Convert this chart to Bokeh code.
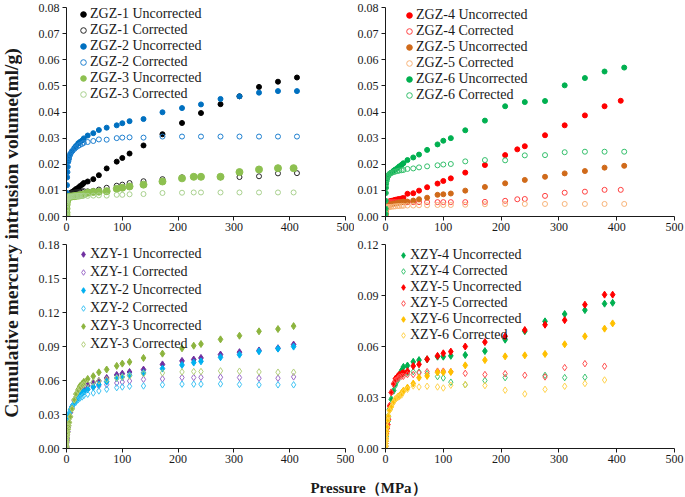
import math
from bokeh.plotting import figure
from bokeh.models import Range1d, Legend, LegendItem, Label, FixedTicker, PrintfTickFormatter
from bokeh.layouts import row, column
from bokeh.embed import file_html
from bokeh.resources import INLINE

nan = float("nan")
SERIF = "Liberation Serif"

# ---------------- data ----------------
P_ZGZ = [0.01, 0.03, 0.1, 0.3, 0.6, 1, 1.5, 2, 3, 4, 5,
         7, 10, 14, 17, 21, 24, 28, 31, 38, 48, 58, 72, 90, 100, 113, 138,
         172, 207, 228, 241, 276, 310, 345, 379, 407, 413]

ZGZ1_U = [0.0003, 0.0008, 0.0015, 0.003, 0.0045, 0.006, 0.007, 0.0075, 0.008, 0.0083, 0.0086,
          0.0090, 0.0094, 0.0100, 0.0105, 0.0110, 0.0116, 0.0122, 0.0128, 0.0134, 0.0143, 0.0158, 0.0184, 0.0210, 0.0224, 0.0241, 0.0272,
          0.0315, 0.0358, nan, 0.0396, 0.0430, 0.0460, 0.0496, 0.0516, nan, 0.0532]
ZGZ1_C = [0.0003, 0.0008, 0.0015, 0.003, 0.0045, 0.006, 0.007, 0.0075, 0.008, 0.0083, 0.0086,
          0.0088, 0.0090, 0.0092, 0.0093, 0.0094, 0.0095, 0.0096, 0.0097, 0.0096, 0.0098, 0.0103, 0.0110, 0.0118, 0.0122, 0.0128, 0.0135,
          0.0143, 0.0150, nan, nan, 0.0150, 0.0151, 0.0154, 0.0165, nan, 0.0166]
ZGZ2_U = [0.001, 0.003, 0.006, 0.009, 0.012, 0.015, 0.017, 0.019, 0.021, 0.022, 0.023,
          0.0240, 0.0250, 0.0262, 0.0270, 0.0280, 0.0285, 0.0291, 0.0299, 0.0310, 0.0319, 0.0331, 0.0340, 0.0349, 0.0357, 0.0365, 0.0373,
          0.0399, 0.0415, nan, 0.0429, 0.0450, 0.0460, 0.0474, 0.0480, nan, 0.0480]
ZGZ2_C = [0.001, 0.003, 0.006, 0.009, 0.012, 0.015, 0.017, 0.019, 0.021, 0.022, 0.023,
          0.0240, 0.0250, 0.0258, 0.0264, 0.0270, 0.0274, 0.0278, 0.0282, 0.0285, 0.0289, 0.0295, 0.0294, 0.0300, 0.0302, 0.0303, 0.0302,
          0.0306, 0.0306, nan, 0.0306, 0.0306, 0.0306, 0.0306, 0.0306, nan, 0.0306]
ZGZ3_U = [0.0005, 0.0015, 0.003, 0.0045, 0.0055, 0.0062, 0.0067, 0.0070, 0.0072, 0.0074, 0.0075,
          0.0076, 0.0077, 0.0078, 0.0079, 0.0080, 0.0081, 0.0083, 0.0085, 0.0091, 0.0094, 0.0095, 0.0097, 0.0106, 0.0110, 0.0115, 0.0122,
          0.0134, 0.0146, 0.0152, 0.0152, 0.0152, 0.0170, 0.0180, 0.0185, 0.0185, nan]
ZGZ3_C = [0.0005, 0.0015, 0.003, 0.0045, 0.0055, 0.0062, 0.0067, 0.0070, 0.0072, 0.0074, 0.0075,
          0.0076, 0.0077, 0.0078, 0.0078, 0.0079, 0.0079, 0.0079, 0.0080, 0.0079, 0.0080, 0.0081, 0.0080, 0.0083, 0.0083, 0.0085, 0.0086,
          0.0090, 0.0091, 0.0092, 0.0092, 0.0092, 0.0092, 0.0092, 0.0092, 0.0092, nan]

ZGZ4_U = [0.0004, 0.0010, 0.0020, 0.0030, 0.0038, 0.0043, 0.0047, 0.0050, 0.0053, 0.0055, 0.0056,
          0.0058, 0.0060, 0.0062, 0.0064, 0.0066, 0.0067, 0.0069, 0.0071, 0.0087, 0.0089, 0.0099, 0.0112, 0.0126, 0.0136, 0.0146, 0.0168,
          0.0197, 0.0235, 0.0257, 0.0269, 0.0311, 0.0349, 0.0387, 0.0422, 0.0443, nan]
ZGZ4_C = [0.0004, 0.0010, 0.0020, 0.0030, 0.0038, 0.0043, 0.0047, 0.0050, 0.0053, 0.0055, 0.0055,
          0.0055, 0.0055, 0.0055, 0.0055, 0.0055, 0.0055, 0.0055, 0.0055, 0.0055, 0.0055, 0.0055, 0.0055, 0.0055, 0.0055, 0.0055, 0.0055,
          0.0056, 0.0060, 0.0066, 0.0067, 0.0079, 0.0091, 0.0095, 0.0102, 0.0102, nan]
ZGZ5_U = [0.0003, 0.0008, 0.0015, 0.0022, 0.0028, 0.0032, 0.0035, 0.0037, 0.0040, 0.0042, 0.0043,
          0.0045, 0.0047, 0.0049, 0.0050, 0.0052, 0.0054, 0.0055, 0.0057, 0.0057, 0.0061, 0.0066, 0.0072, 0.0083, 0.0085, 0.0088, 0.0099,
          0.0113, 0.0127, nan, 0.0140, 0.0152, 0.0165, 0.0174, 0.0187, nan, 0.0194]
ZGZ5_C = [0.0003, 0.0008, 0.0015, 0.0022, 0.0028, 0.0031, 0.0033, 0.0034, 0.0035, 0.0035, 0.0036,
          0.0036, 0.0037, 0.0038, 0.0039, 0.0040, 0.0040, 0.0041, 0.0041, 0.0042, 0.0042, 0.0043, 0.0043, 0.0044, 0.0044, 0.0044, 0.0045,
          0.0047, 0.0048, nan, 0.0048, 0.0048, 0.0048, 0.0048, 0.0048, nan, 0.0048]
ZGZ6_U = [0.0010, 0.0030, 0.0060, 0.0090, 0.0110, 0.0125, 0.0135, 0.0142, 0.0150, 0.0155, 0.0158,
          0.0163, 0.0168, 0.0175, 0.0180, 0.0186, 0.0192, 0.0198, 0.0204, 0.0216, 0.0226, 0.0237, 0.0255, 0.0276, 0.0290, 0.0300, 0.0330,
          0.0367, 0.0422, nan, 0.0438, 0.0442, 0.0502, 0.0530, 0.0555, nan, 0.0570]
ZGZ6_C = [0.0010, 0.0030, 0.0060, 0.0090, 0.0110, 0.0125, 0.0135, 0.0142, 0.0150, 0.0155, 0.0158,
          0.0163, 0.0166, 0.0170, 0.0172, 0.0174, 0.0176, 0.0177, 0.0178, 0.0182, 0.0184, 0.0188, 0.0192, 0.0196, 0.0199, 0.0201, 0.0211,
          0.0216, 0.0215, nan, 0.0234, 0.0235, 0.0246, 0.0248, 0.0248, nan, 0.0248]

P_XZY_A = [0.01, 0.03, 0.1, 0.3, 0.6, 1, 1.5, 2, 3, 4, 5,
           7, 10, 14, 17, 21, 24, 28, 31, 38, 48, 58, 72, 90, 100, 113, 138,
           172, 207, 228, 241, 276, 310, 345, 379, 407]

XZY1_U = [0.001, 0.002, 0.003, 0.005, 0.007, 0.009, 0.012, 0.015, 0.019, 0.023, 0.027,
          0.032, 0.037, 0.042, 0.045, 0.048, 0.050, 0.052, 0.0526, 0.0558, 0.0581, 0.0596, 0.0622, 0.0649, 0.0660, 0.0675, 0.0696,
          0.0742, 0.0773, 0.0785, 0.0799, 0.0829, 0.0850, 0.0865, 0.0885, 0.0917]
XZY1_C = [0.001, 0.002, 0.003, 0.005, 0.007, 0.009, 0.012, 0.015, 0.019, 0.023, 0.027,
          0.032, 0.037, 0.042, 0.045, 0.047, 0.048, 0.049, 0.050, 0.052, 0.0543, 0.0552, 0.0564, 0.0578, 0.0587, 0.0596, 0.0610,
          0.0614, 0.0626, 0.0626, 0.0628, 0.0629, 0.0626, 0.0620, 0.0620, 0.0632]
XZY2_U = [0.008, 0.011, 0.013, 0.015, 0.017, 0.019, 0.021, 0.023, 0.026, 0.029, 0.031,
          0.034, 0.037, 0.040, 0.042, 0.045, 0.047, 0.049, 0.050, 0.0523, 0.0543, 0.0564, 0.0590, 0.0622, 0.0631, 0.0646, 0.0667,
          0.0705, 0.0737, 0.0758, 0.0769, 0.0805, 0.0828, 0.0857, 0.0881, 0.0899]
XZY2_C = [0.008, 0.011, 0.013, 0.015, 0.017, 0.019, 0.021, 0.023, 0.026, 0.029, 0.031,
          0.034, 0.037, 0.040, 0.041, 0.043, 0.0445, 0.0455, 0.0467, 0.0479, 0.0490, 0.0508, 0.0523, 0.0537, 0.0543, 0.0549, 0.0552,
          0.0562, 0.0568, 0.0568, 0.0568, 0.0570, 0.0565, 0.0562, 0.0562, 0.0562]
XZY3_U = [0.001, 0.002, 0.004, 0.006, 0.008, 0.010, 0.012, 0.014, 0.017, 0.020, 0.023,
          0.028, 0.035, 0.043, 0.048, 0.052, 0.055, 0.057, 0.0588, 0.0614, 0.0638, 0.0672, 0.0697, 0.0729, 0.0749, 0.0764, 0.0799,
          0.0837, 0.0884, 0.0907, 0.0922, 0.0963, 0.0995, 0.1034, 0.1054, 0.1080]
XZY3_C = [0.001, 0.002, 0.004, 0.006, 0.008, 0.010, 0.012, 0.014, 0.017, 0.020, 0.023,
          0.028, 0.035, 0.043, 0.048, 0.051, 0.053, 0.0555, 0.0564, 0.0573, 0.0587, 0.0596, 0.0608, 0.0622, 0.0631, 0.0640, 0.0660,
          0.0667, 0.0676, 0.0679, 0.0679, 0.0685, 0.0682, 0.0676, 0.0673, 0.0673]

P_XZY_B = [0.01, 0.03, 0.1, 0.3, 0.6, 1, 1.5, 2, 3, 4, 5,
           7, 10, 14, 17, 21, 24, 28, 31, 38, 48, 58, 72, 90, 100, 113, 138,
           172, 207, 241, 276, 310, 345, 379, 393]

XZY4_U = [0.001, 0.002, 0.003, 0.005, 0.007, 0.009, 0.011, 0.012, 0.013, 0.016, 0.019,
          0.023, 0.029, 0.034, 0.038, 0.041, 0.0435, 0.046, 0.048, 0.0488, 0.0510, 0.0520, 0.0525, 0.0540, 0.0540, 0.0545, 0.0550,
          0.0573, 0.0640, 0.0690, 0.0748, 0.0791, 0.0814, 0.0852, 0.0857]
XZY4_C = [0.001, 0.002, 0.003, 0.005, 0.007, 0.009, 0.011, 0.012, 0.013, 0.016, 0.019,
          0.023, 0.029, 0.034, 0.037, 0.040, 0.042, 0.0435, 0.044, 0.0445, 0.0452, 0.0450, 0.0440, 0.0423, 0.0415, 0.0390, 0.0375,
          0.0400, 0.0417, nan, 0.0430, 0.0417, 0.0419, nan, nan]
XZY5_U = [0.001, 0.002, 0.003, 0.004, 0.006, 0.008, 0.009, 0.010, 0.012, 0.014, 0.017,
          0.025, 0.033, 0.038, 0.041, 0.0425, 0.0435, 0.044, 0.0445, 0.0455, 0.0485, 0.0495, 0.0525, 0.0545, 0.0560, 0.0570, 0.0600,
          0.0626, 0.0660, 0.0697, 0.0728, 0.0755, 0.0846, 0.0905, 0.0905]
XZY5_C = [0.001, 0.002, 0.003, 0.004, 0.006, 0.008, 0.009, 0.010, 0.012, 0.014, 0.017,
          0.025, 0.033, 0.038, 0.040, 0.041, 0.042, 0.0425, 0.0425, 0.0435, 0.0435, 0.0445, 0.0452, 0.0455, 0.0455, 0.0452, 0.0442,
          0.0435, 0.0440, 0.0431, 0.0421, 0.0476, 0.0499, 0.0484, nan]
XZY6_U = [0.001, 0.002, 0.003, 0.004, 0.005, 0.006, 0.008, 0.010, 0.0127, 0.0166, 0.019,
          0.0225, 0.0245, 0.0274, 0.0290, 0.0303, 0.0310, 0.0327, 0.0340, 0.0358, 0.0382, 0.0417, 0.0427, 0.0448, 0.0448, 0.0450, 0.0489,
          0.0520, 0.0542, 0.0548, 0.0556, 0.0613, 0.0660, 0.0705, 0.0736]
XZY6_C = [0.001, 0.002, 0.003, 0.004, 0.005, 0.006, 0.008, 0.010, 0.0127, 0.0166, 0.019,
          0.0225, 0.0245, 0.0274, 0.0290, 0.0300, 0.0305, 0.0315, 0.0333, 0.0348, 0.0368, 0.0362, 0.0366, 0.0362, 0.0356, 0.0372, 0.0376,
          0.0370, 0.0343, 0.0321, 0.0348, 0.0366, 0.0382, 0.0403, nan]

X_TICKS = [0, 100, 200, 300, 400, 500]
Y_TICKS_ZGZ = [0.00, 0.01, 0.02, 0.03, 0.04, 0.05, 0.06, 0.07, 0.08]
Y_TICKS_XZY_A = [0.00, 0.03, 0.06, 0.09, 0.12, 0.15, 0.18]
Y_TICKS_XZY_B = [0.00, 0.03, 0.06, 0.09, 0.12]


def make_panel(width, height, bl, br, bt, bb, yticks, pressures, series,
               marker, leg_x, leg_first, pitch):
    p = figure(width=width, height=height, x_range=Range1d(0, 500),
               y_range=Range1d(yticks[0], yticks[-1]),
               output_backend="svg", toolbar_location=None,
               min_border_left=bl, min_border_right=br,
               min_border_top=bt, min_border_bottom=bb)
    p.xgrid.visible = False
    p.ygrid.visible = False
    p.outline_line_color = None
    p.background_fill_color = "white"
    p.border_fill_color = "white"
    p.xaxis.ticker = FixedTicker(ticks=X_TICKS)
    p.yaxis.ticker = FixedTicker(ticks=yticks)
    p.yaxis.formatter = PrintfTickFormatter(format="%.2f")
    for ax in (p.xaxis[0], p.yaxis[0]):
        ax.axis_line_color = "#1a1a1a"
        ax.axis_line_width = 1
        ax.major_tick_line_color = "#1a1a1a"
        ax.major_tick_out = 4
        ax.major_tick_in = 0
        ax.minor_tick_out = 0
        ax.minor_tick_in = 0
        ax.major_label_text_font = SERIF
        ax.major_label_text_font_size = "12px"
        ax.major_label_text_color = "#1a1a1a"
    p.xaxis.major_label_standoff = 2
    p.yaxis.major_label_standoff = 3

    items = []
    for label, vals, color, filled, size in series:
        r = p.scatter(pressures, vals, marker=marker, size=size, line_color=color,
                      line_width=1, fill_color=color if filled else None)
        items.append(LegendItem(label=label, renderers=[r]))

    frame_h = height - bt - bb
    n = len(items)
    top_off = leg_first - pitch / 2
    legend = Legend(items=items,
                    location=(leg_x, int(round(frame_h - top_off - n * pitch))),
                    padding=0, margin=0, spacing=0,
                    glyph_width=14, glyph_height=pitch,
                    label_height=pitch, label_standoff=0,
                    label_text_font=SERIF, label_text_font_size="14px",
                    label_text_color="#1a1a1a",
                    border_line_color=None, background_fill_alpha=0)
    p.add_layout(legend)
    return p


tl = make_panel(332, 238, 44, 9, 7, 20, Y_TICKS_ZGZ, P_ZGZ, [
    ("ZGZ-1 Uncorrected", ZGZ1_U, "#000000", True, 5),
    ("ZGZ-1 Corrected", ZGZ1_C, "#262626", False, 5),
    ("ZGZ-2 Uncorrected", ZGZ2_U, "#0070C0", True, 5),
    ("ZGZ-2 Corrected", ZGZ2_C, "#1F80D0", False, 5),
    ("ZGZ-3 Uncorrected", ZGZ3_U, "#8DC050", True, 7),
    ("ZGZ-3 Corrected", ZGZ3_C, "#A9D18E", False, 5),
], "circle", 10, 9, 16)

tr = make_panel(330, 238, 30, 10, 7, 22, Y_TICKS_ZGZ, P_ZGZ, [
    ("ZGZ-4 Uncorrected", ZGZ4_U, "#FF0000", True, 5),
    ("ZGZ-4 Corrected", ZGZ4_C, "#FF4040", False, 5),
    ("ZGZ-5 Uncorrected", ZGZ5_U, "#D06A1A", True, 5),
    ("ZGZ-5 Corrected", ZGZ5_C, "#F8B47A", False, 5),
    ("ZGZ-6 Uncorrected", ZGZ6_U, "#00B050", True, 5),
    ("ZGZ-6 Corrected", ZGZ6_C, "#33BF6B", False, 5),
], "circle", 17, 8, 16)

bl = make_panel(332, 236, 44, 9, 6, 26, Y_TICKS_XZY_A, P_XZY_A, [
    ("XZY-1 Uncorrected", XZY1_U, "#7030A0", True, 7),
    ("XZY-1 Corrected", XZY1_C, "#9C6BC9", False, 6.5),
    ("XZY-2 Uncorrected", XZY2_U, "#00B0F0", True, 7),
    ("XZY-2 Corrected", XZY2_C, "#40C4F4", False, 6.5),
    ("XZY-3 Uncorrected", XZY3_U, "#8CB43E", True, 7),
    ("XZY-3 Corrected", XZY3_C, "#B3CF7C", False, 6.5),
], "diamond", 10, 10, 18)

br = make_panel(330, 236, 30, 10, 6, 26, Y_TICKS_XZY_B, P_XZY_B, [
    ("XZY-4 Uncorrected", XZY4_U, "#00B050", True, 7),
    ("XZY-4 Corrected", XZY4_C, "#3CC472", False, 6.5),
    ("XZY-5 Uncorrected", XZY5_U, "#FF0000", True, 7),
    ("XZY-5 Corrected", XZY5_C, "#FF5050", False, 6.5),
    ("XZY-6 Uncorrected", XZY6_U, "#FFC000", True, 7),
    ("XZY-6 Corrected", XZY6_C, "#FFD34D", False, 6.5),
], "diamond", 11, 11, 16)


def text_panel(width, height, text, x, y, angle, size):
    p = figure(width=width, height=height, x_range=Range1d(0, 1), y_range=Range1d(0, 1),
               x_axis_type=None, y_axis_type=None, output_backend="svg",
               toolbar_location=None, min_border=0)
    p.outline_line_color = None
    p.xgrid.visible = False
    p.ygrid.visible = False
    p.add_layout(Label(x=x, y=y, text=text, angle=angle, text_align="center",
                       text_baseline="middle", text_font=SERIF,
                       text_font_size=size, text_font_style="bold",
                       text_color="#1a1a1a"))
    return p


ylab = text_panel(22, 496, "Cumulative mercury intrusion volume(ml/g)",
                  0.5, 1 - 232.5 / 496, math.pi / 2, "19.5px")
xlab = text_panel(662, 22, "Pressure（MPa）", (368 - 22) / 662, 9 / 22, 0, "15px")

layout = row(ylab, column(row(tl, tr), row(bl, br), xlab))

open("out.html", "w").write(file_html(layout, INLINE))
